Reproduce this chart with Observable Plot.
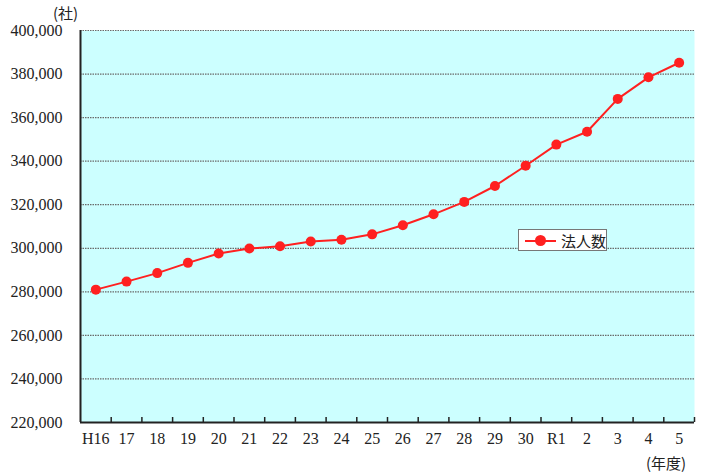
<!DOCTYPE html>
<html>
<head>
<meta charset="utf-8">
<script src="https://cdn.jsdelivr.net/npm/d3@7"></script>
<script src="https://cdn.jsdelivr.net/npm/@observablehq/plot@0.6"></script>
<style>
  body { margin: 0; background: #fff; }
  #wrap { position: relative; width: 710px; height: 475px; font-family: "Liberation Serif", "DejaVu Serif", serif; color: #222; }
  .lab { position: absolute; font-size: 15px; font-family: "Noto Sans CJK JP", sans-serif; color: #222; white-space: nowrap; }
  #legend { position: absolute; left: 518px; top: 229px; width: 89px; height: 22px; background: #fff; border: 1px solid #777; box-sizing: border-box; }
  #legend .ln { position: absolute; left: 6px; top: 10px; width: 31px; height: 2px; background: #ff2020; }
  #legend .dt { position: absolute; left: 16px; top: 5px; width: 11px; height: 11px; border-radius: 50%; background: #ff2020; }
  #legend .tx { position: absolute; left: 42px; top: 0px; font-size: 15px; line-height: 21px; font-family: "Noto Sans CJK JP", sans-serif; color: #222; }
</style>
</head>
<body>
<div id="wrap">
  <div class="lab" style="left:53px; top:2px;">(社)</div>
  <div class="lab" style="left:646px; top:452px;">(年度)</div>
  <div id="legend"><div class="ln"></div><div class="dt"></div><div class="tx">法人数</div></div>
</div>
<script>
const years = ["H16","17","18","19","20","21","22","23","24","25","26","27","28","29","30","R1","2","3","4","5"];
const corporations = [281000, 284700, 288600, 293300, 297600, 299900, 300900, 303100, 303900, 306400, 310600, 315600, 321300, 328600, 337900, 347600, 353500, 368600, 378500, 385200];
const yTicks = [220000, 240000, 260000, 280000, 300000, 320000, 340000, 360000, 380000, 400000];

const data = years.map((y, i) => ({i, year: y, value: corporations[i]}));
const idx = years.map((_, i) => i);
const bounds = years.map((_, i) => i + 0.5);

const chart = Plot.plot({
  width: 710,
  height: 475,
  marginLeft: 80,
  marginRight: 16,
  marginTop: 30,
  marginBottom: 53,
  style: {fontFamily: "'Liberation Serif', 'DejaVu Serif', serif", fontSize: "16px", color: "#222", background: "transparent"},
  x: {type: "linear", domain: [-0.5, years.length - 0.5], axis: null},
  y: {domain: [220000, 400000], axis: null},
  marks: [
    Plot.frame({fill: "#ccffff", stroke: null}),
    Plot.gridY(yTicks.slice(1), {stroke: "#6a6a6a", strokeOpacity: 1, strokeWidth: 1.2, strokeDasharray: "1.5,1"}),
    Plot.axisY(yTicks, {label: null, tickSize: 0, tickPadding: 18, tickFormat: d3.format(","), fontSize: 16, fill: "#222"}),
    Plot.axisX(idx, {label: null, tickSize: 0, tickPadding: 10, tickFormat: i => years[i], fontSize: 16, fill: "#222"}),
    Plot.ruleX(bounds, {stroke: "#222", strokeWidth: 1.5, insetTop: 387}),
    Plot.ruleY([220000], {stroke: "#222", strokeWidth: 2}),
    Plot.ruleX([-0.5], {stroke: "#222", strokeWidth: 2}),
    Plot.line(data, {x: "i", y: "value", stroke: "#ff2020", strokeWidth: 2}),
    Plot.dot(data, {x: "i", y: "value", r: 5, fill: "#ff2020", stroke: "none"})
  ]
});
document.getElementById("wrap").prepend(chart);
chart.style.position = "absolute";
chart.style.left = "0";
chart.style.top = "0";
</script>
</body>
</html>
